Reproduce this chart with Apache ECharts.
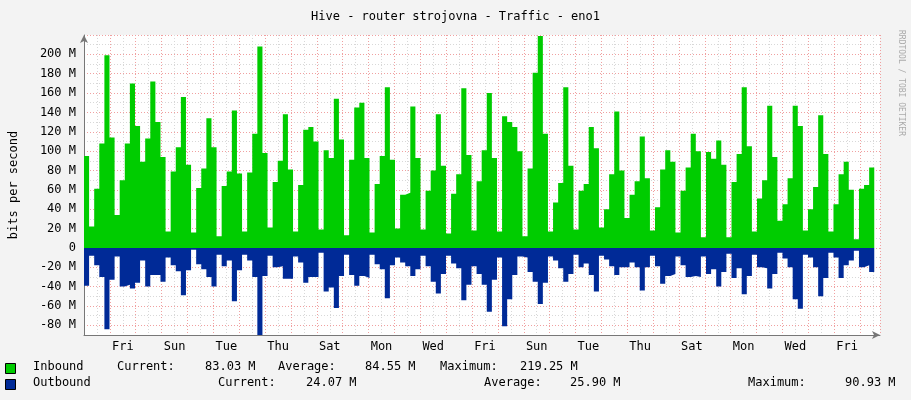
<!DOCTYPE html>
<html>
<head>
<meta charset="utf-8">
<script src="https://cdn.jsdelivr.net/npm/echarts@6/dist/echarts.min.js"></script>
<style>html,body{margin:0;padding:0;background:#f3f3f3}#chart{width:911px;height:400px}</style>
</head>
<body>
<div id="chart"></div>
<script>
// 数据（单位 M bit/s），每个采样约 4.73 小时
var inbound = [95,22,61,108,199,114,34,70,108,170,126,89,113,172,130,94,17,79,104,156,86,16,62,82,134,104,12,64,79,142,77,17,78,118,208,98,21,68,90,138,
    81,17,65,122,125,110,19,101,93,154,112,13,91,145,150,93,16,66,95,166,91,20,55,57,146,93,19,59,80,138,85,15,56,76,165,96,18,69,101,
    160,93,17,136,130,125,100,12,82,181,219,118,17,47,67,166,85,19,59,66,125,103,21,40,76,141,80,31,55,69,115,72,18,42,81,101,89,16,59,
    83,118,100,11,99,92,111,86,11,68,97,166,105,17,51,70,147,94,28,45,72,147,126,18,40,63,137,97,17,45,76,89,60,9,61,65,83];
var outbound = [-39,-8,-18,-30,-84,-33,-9,-40,-38,-42,-36,-13,-40,-28,-28,-35,-10,-18,-24,-49,-23,-2,-17,-22,-30,-40,-7,-19,-13,-55,-23,-7,-13,-30,-91,-29,-8,-20,-19,-32,
    -32,-9,-15,-36,-30,-30,-5,-45,-41,-62,-29,-7,-28,-39,-29,-31,-7,-17,-22,-52,-18,-10,-15,-19,-29,-22,-8,-19,-35,-47,-27,-8,-16,-21,-54,-38,-19,-27,-38,
    -66,-33,-10,-81,-53,-28,-9,-10,-25,-35,-58,-36,-9,-13,-21,-35,-27,-7,-20,-16,-28,-45,-8,-12,-19,-28,-20,-20,-15,-20,-44,-20,-8,-19,-37,-29,-27,-9,-18,
    -30,-29,-30,-9,-27,-22,-40,-25,-6,-31,-21,-48,-29,-7,-20,-21,-42,-27,-5,-11,-20,-53,-63,-7,-10,-20,-50,-31,-5,-10,-31,-18,-13,-3,-20,-18,-25];
var dayNames = ['Sun', 'Mon', 'Tue', 'Wed', 'Thu', 'Fri', 'Sat'];
var firstDay = 4; // 第 0 天是 Thu
var stepDays = 4.73 / 24;
var totalDays = 30.77;

function toPoints(arr) {
    var pts = arr.map(function (v, i) { return [i * stepDays, v]; });
    pts.push([arr.length * stepDays, arr[arr.length - 1]]);
    return pts;
}

var chart = echarts.init(document.getElementById('chart'));
var mono = 'DejaVu Sans Mono';

function txt(x, y, s) {
    return { type: 'text', left: x, top: y, style: { text: s, font: '12px ' + mono, fill: '#000' } };
}

var option = {
    backgroundColor: '#f3f3f3',
    animation: false,
    title: {
        text: 'Hive - router strojovna - Traffic - eno1',
        left: 'center', top: 6,
        textStyle: { fontFamily: mono, fontSize: 12, fontWeight: 'normal', color: '#000' }
    },
    grid: { left: 80, right: 31, top: 35, bottom: 65, show: true, backgroundColor: '#fff', borderWidth: 0 },
    xAxis: {
        type: 'value', min: 0, max: totalDays, interval: 0.5,
        axisLine: { onZero: false, lineStyle: { color: '#777' }, symbol: ['none', 'arrow'], symbolSize: [6, 8] },
        axisTick: { show: false },
        splitLine: { show: true, lineStyle: { color: ['#f0a0a0', '#d8d8d8'], type: [1, 2] } },
        axisLabel: {
            fontFamily: mono, fontSize: 12, color: '#000', margin: 6,
            formatter: function (v) {
                var r = Math.round(v * 2);
                if (r % 4 !== 3) return '';
                return dayNames[(Math.floor(v) + firstDay) % 7];
            }
        }
    },
    yAxis: {
        type: 'value', min: -90, max: 220, interval: 10,
        name: 'bits per second', nameLocation: 'middle', nameGap: 64, nameRotate: 90,
        nameTextStyle: { fontFamily: mono, fontSize: 12, color: '#000' },
        axisLine: { show: true, lineStyle: { color: '#777' }, symbol: ['none', 'arrow'], symbolSize: [6, 8] },
        axisTick: { show: false },
        splitLine: { show: true, lineStyle: { color: ['#d8d8d8', '#f0a0a0'], type: [1, 2] } },
        axisLabel: {
            fontFamily: mono, fontSize: 12, color: '#000', margin: 8,
            formatter: function (v) {
                if (Math.round(v) % 20 !== 0 || v >= 220) return '';
                return v === 0 ? '0' : v + ' M';
            }
        }
    },
    series: [{
        name: 'Inbound', type: 'line', step: 'end', showSymbol: false,
        data: toPoints(inbound),
        lineStyle: { width: 0 }, areaStyle: { color: '#00cc00', opacity: 1 }, z: 3
    }, {
        name: 'Outbound', type: 'line', step: 'end', showSymbol: false,
        data: toPoints(outbound),
        lineStyle: { width: 0 }, areaStyle: { color: '#002a97', opacity: 1 }, z: 3
    }],
    graphic: [
        { type: 'rect', left: 5, top: 363, shape: { width: 10, height: 10 }, style: { fill: '#00cc00', stroke: '#000' } },
        { type: 'rect', left: 5, top: 379, shape: { width: 10, height: 10 }, style: { fill: '#002a97', stroke: '#000' } },
        txt(33, 361, 'Inbound'), txt(117, 361, 'Current:'), txt(205, 361, '83.03 M'),
        txt(278, 361, 'Average:'), txt(365, 361, '84.55 M'), txt(440, 361, 'Maximum:'), txt(520, 361, '219.25 M'),
        txt(33, 377, 'Outbound'), txt(218, 377, 'Current:'), txt(306, 377, '24.07 M'),
        txt(484, 377, 'Average:'), txt(570, 377, '25.90 M'), txt(748, 377, 'Maximum:'), txt(845, 377, '90.93 M'),
        { type: 'text', left: 897, top: 30, rotation: -Math.PI / 2, originX: 0, originY: 0,
          style: { text: 'RRDTOOL / TOBI OETIKER', font: '8px ' + mono, fill: '#aaa', x: 0, y: 0 } }
    ]
};
chart.setOption(option);
</script>
</body>
</html>
